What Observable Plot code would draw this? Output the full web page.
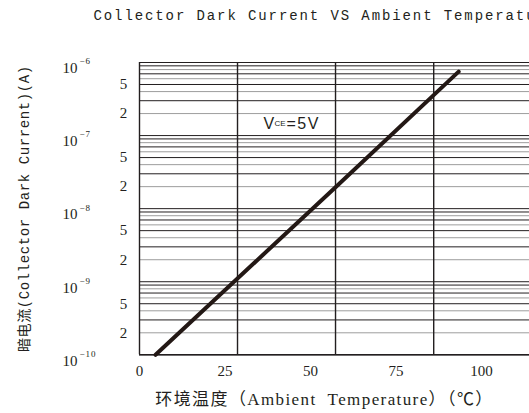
<!DOCTYPE html>
<html>
<head>
<meta charset="utf-8">
<script src="https://cdn.jsdelivr.net/npm/d3@7"></script>
<script src="https://cdn.jsdelivr.net/npm/@observablehq/plot@0.6"></script>
<style>
  html, body { margin: 0; padding: 0; background: #fff; overflow: hidden; }
  svg { overflow: hidden; }
</style>
</head>
<body>
<div id="chart"></div>
<script>
// ---- data ----
const chartTitle = "Collector Dark Current VS Ambient Temperature";
const xTitle = "环境温度（Ambient  Temperature）（℃）";
const yTitle = "暗电流(Collector Dark Current)(A)";
const xTicks = [0, 25, 50, 75, 100];
const gridTemps = [0, 28.65, 57.3, 86];          // vertical grid of the original sheet
const decadeExps = [-6, -7, -8, -9, -10];
const darkMantissas = [1, 3, 5, 7, 9];
const grayMantissas = [2, 4, 6, 8];
const labelMantissas = [5, 2];
const temps = [4.7, 57.3, 93.3];                 // °C
const darkCurrent = [1e-10, 1.96e-8, 7.5e-7];     // A
const noteParts = ["V", "CE", "=5V"];

// ---- derived tables ----
const yMin = 1e-10, yMax = 1e-6;
const inDomain = v => v >= yMin * 0.999 && v <= yMax * 1.001;
const gridDark = decadeExps.flatMap(e => darkMantissas.map(m => m * 10 ** e)).filter(inDomain);
const gridGray = decadeExps.flatMap(e => grayMantissas.map(m => m * 10 ** e)).filter(inDomain);
const minorLabels = decadeExps.flatMap(e => labelMantissas.map(m => ({m, v: m * 10 ** (e - 1)}))).filter(d => inDomain(d.v));
const series = temps.map((t, i) => ({t, i: darkCurrent[i]}));
const expText = e => "−" + Math.abs(e);

const ink = "#231f20";
const serif = "Liberation Serif, Times New Roman, serif";
const mono = "Liberation Mono, 'Noto Sans CJK SC', monospace";
const sans = "Liberation Sans, Arial, sans-serif";

const chart = Plot.plot({
  width: 529,
  height: 413,
  marginLeft: 139,
  marginRight: 0,
  marginTop: 62,
  marginBottom: 58.7,
  x: {domain: [0, 114], axis: null},
  y: {type: "log", domain: [yMin, yMax], axis: null},
  marks: [
    Plot.ruleY(gridGray, {stroke: "#9d9d9d", strokeWidth: 1}),
    Plot.ruleY(gridDark, {stroke: ink, strokeWidth: 1}),
    Plot.ruleX(gridTemps, {stroke: ink, strokeWidth: 1.4}),
    Plot.ruleY([yMin], {stroke: ink, strokeWidth: 1.4}),
    Plot.line(series, {x: "t", y: "i", stroke: "#231815", strokeWidth: 4}),
    // x tick labels
    Plot.text(xTicks, {x: d => d, frameAnchor: "bottom", dy: 21, text: d => String(d),
      fontSize: 15, fontFamily: serif, fill: ink}),
    // y decade labels
    Plot.text(decadeExps, {y: e => 10 ** e, frameAnchor: "left", dx: -77, dy: 6, text: () => "10",
      textAnchor: "start", fontSize: 15, fontFamily: serif, fill: ink}),
    Plot.text(decadeExps, {y: e => 10 ** e, frameAnchor: "left", dx: -60, dy: -1, text: expText,
      textAnchor: "start", fontSize: 9, fontFamily: serif, fill: ink}),
    Plot.text(minorLabels, {y: "v", frameAnchor: "left", dx: -16, text: d => String(d.m),
      textAnchor: "middle", fontSize: 15, fontFamily: serif, fill: ink}),
    // annotation
    Plot.text([noteParts[0]], {frameAnchor: "top-left", dx: 124, dy: 55.5, text: d => d, textAnchor: "start",
      fontSize: 16, fontFamily: sans, fill: ink}),
    Plot.text([noteParts[1]], {frameAnchor: "top-left", dx: 135, dy: 58, text: d => d, textAnchor: "start",
      fontSize: 8, fontFamily: sans, fill: ink}),
    Plot.text([noteParts[2]], {frameAnchor: "top-left", dx: 147, dy: 55.5, text: d => d, textAnchor: "start",
      fontSize: 16, fontFamily: sans, fill: ink}),
    // titles
    Plot.text([chartTitle], {frameAnchor: "top-left", dx: -46, dy: -52, text: d => d, textAnchor: "start",
      fontSize: 14, fontFamily: mono, fill: ink}),
    Plot.text([yTitle], {frameAnchor: "left", dx: -115, dy: 0, rotate: -90, text: d => d, textAnchor: "middle",
      fontSize: 14, fontFamily: mono, fill: ink}),
    Plot.text([xTitle], {frameAnchor: "bottom", dx: -10, dy: 50, text: d => d, textAnchor: "middle",
      fontSize: 17, fontFamily: "Liberation Serif, 'Noto Sans CJK SC', serif", fill: ink})
  ]
});

// letter spacing to match the wide typesetting of the original sheet
const spacing = new Map([
  [chartTitle, "1.9px"],
  [yTitle, "0.6px"],
  [xTitle, "1.4px"],
  [noteParts[2], "1.5px"],
  ...decadeExps.map(e => [expText(e), "1px"])
]);
d3.select(chart).selectAll("text").each(function () {
  const s = spacing.get(this.textContent);
  if (s) this.style.letterSpacing = s;
});
document.getElementById("chart").appendChild(chart);
</script>
</body>
</html>
